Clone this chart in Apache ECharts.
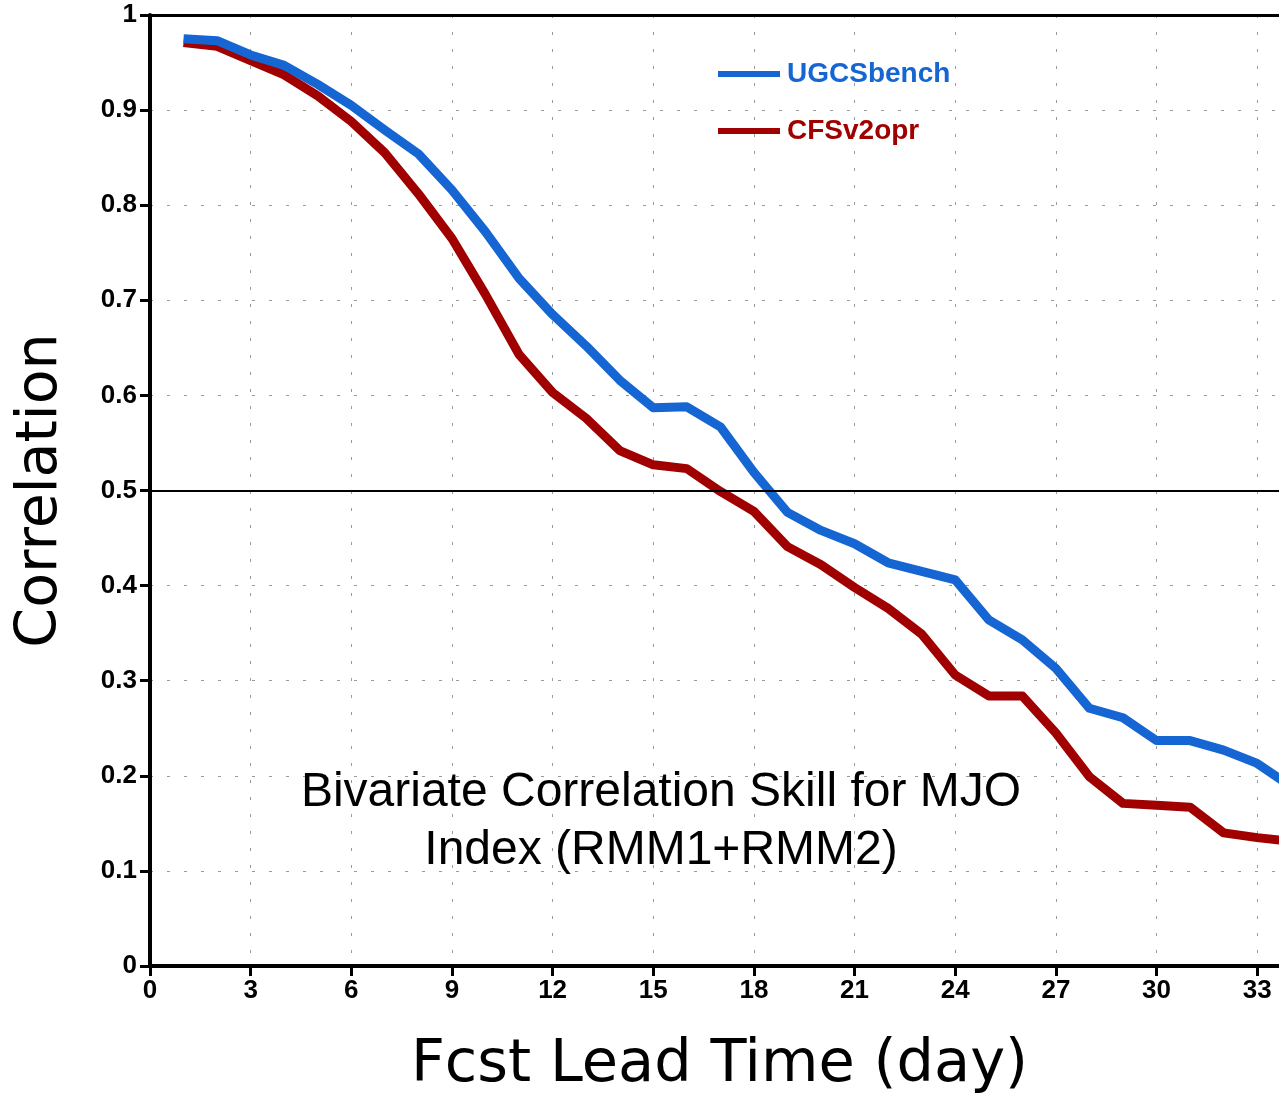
<!DOCTYPE html>
<html>
<head>
<meta charset="utf-8">
<script src="https://cdn.jsdelivr.net/npm/echarts@6/dist/echarts.min.js"></script>
<style>
html,body{margin:0;padding:0;background:#fff;}
#chart{width:1279px;height:1094px;}
</style>
</head>
<body>
<div id="chart"></div>
<script>
const days = [1,2,3,4,5,6,7,8,9,10,11,12,13,14,15,16,17,18,19,20,21,22,23,24,25,26,27,28,29,30,31,32,33,34];
const ugcsBench = [0.975,0.973,0.958,0.947,0.927,0.905,0.879,0.854,0.816,0.772,0.723,0.685,0.652,0.616,0.587,0.588,0.567,0.519,0.477,0.458,0.444,0.424,0.415,0.406,0.364,0.343,0.313,0.271,0.261,0.237,0.237,0.227,0.213,0.189];
const cfsv2Opr = [0.971,0.967,0.952,0.937,0.915,0.888,0.855,0.812,0.765,0.706,0.643,0.603,0.576,0.542,0.527,0.523,0.499,0.478,0.441,0.422,0.398,0.376,0.349,0.306,0.284,0.284,0.245,0.199,0.171,0.169,0.167,0.140,0.135,0.131];
const xTicks = [0,3,6,9,12,15,18,21,24,27,30,33];
const yTicks = [0,0.1,0.2,0.3,0.4,0.5,0.6,0.7,0.8,0.9,1];
const seriesNames = ['UGCSbench','CFSv2opr'];
const refLine = 0.5;
const annotation = 'Bivariate Correlation Skill for MJO\nIndex (RMM1+RMM2)';

const BLUE = '#1565d2';
const RED = '#a00000';
const tickFont = '"Liberation Sans",Arial,sans-serif';
const XMAX = 33.65;

const chart = echarts.init(document.getElementById('chart'), null, {renderer:'canvas'});
const dashed = {show:true, lineStyle:{color:'#9a9a9a', width:1, type:[3,14]}};

chart.setOption({
  animation:false,
  backgroundColor:'#fff',
  grid:{left:150, top:15, right:0, bottom:128, containLabel:false, outerBoundsMode:'none'},
  title:{
    text: annotation,
    left: 656, top: 759, textAlign:'center',
    textStyle:{fontFamily:'"Liberation Sans",Arial,sans-serif', fontSize:48, fontWeight:'normal', color:'#000', lineHeight:58}
  },
  legend:{
    orient:'vertical', left:718, top:60, padding:0,
    icon:'rect',
    itemWidth:62, itemHeight:6, itemGap:29,
    data:[
      {name:seriesNames[0], textStyle:{color:BLUE}},
      {name:seriesNames[1], textStyle:{color:RED}}
    ],
    textStyle:{fontFamily:'"Liberation Sans",Arial,sans-serif', fontWeight:'bold', fontSize:28, padding:[0,0,0,2]}
  },
  xAxis:[{
    type:'value', min:0, max:XMAX, interval:3,
    name:'Fcst Lead Time (day)', nameLocation:'middle', nameGap:70,
    nameTextStyle:{fontFamily:'"DejaVu Sans",sans-serif', fontSize:59, color:'#000', padding:[0,0,0,10]},
    axisLine:{show:true, onZero:false, lineStyle:{color:'#000', width:4}},
    axisTick:{show:true, inside:false, length:10, lineStyle:{color:'#000', width:3},
      customValues: xTicks},
    axisLabel:{show:true, margin:12, color:'#000', fontFamily:tickFont, fontWeight:'bold', fontSize:26,
      customValues: xTicks,
      formatter:function(v){ return xTicks.indexOf(v) >= 0 ? String(v) : ''; }},
    splitLine:dashed
  },{
    type:'value', position:'top', min:0, max:XMAX, interval:3,
    axisLine:{show:true, onZero:false, lineStyle:{color:'#000', width:3}},
    axisTick:{show:false}, axisLabel:{show:false}, splitLine:{show:false}
  }],
  yAxis:{
    type:'value', min:0, max:1, interval:0.1,
    name:'Correlation', nameLocation:'middle', nameGap:80, nameRotate:90,
    nameTextStyle:{fontFamily:'"DejaVu Sans",sans-serif', fontSize:57, color:'#000'},
    axisLine:{show:true, onZero:false, lineStyle:{color:'#000', width:4}},
    axisTick:{show:true, inside:false, length:10, lineStyle:{color:'#000', width:3}},
    axisLabel:{show:true, margin:13, color:'#000', fontFamily:tickFont, fontWeight:'bold', fontSize:26,
      formatter:function(v){ const r = Math.round(v*10)/10; return yTicks.indexOf(r) >= 0 ? String(r) : ''; }},
    splitLine:dashed
  },
  series:[
    {
      name:seriesNames[1], type:'line', xAxisIndex:0,
      data: days.map((d,i)=>[d, cfsv2Opr[i]]),
      symbol:'none', showSymbol:false, clip:true,
      lineStyle:{color:RED, width:9, join:'round'}, itemStyle:{color:RED},
      z:3,
      markLine:{
        silent:true, symbol:['none','none'], label:{show:false},
        lineStyle:{color:'#000', width:2, type:'solid'},
        data:[{yAxis:refLine}]
      }
    },
    {
      name:seriesNames[0], type:'line', xAxisIndex:0,
      data: days.map((d,i)=>[d, ugcsBench[i]]),
      symbol:'none', showSymbol:false, clip:true,
      lineStyle:{color:BLUE, width:9, join:'round'}, itemStyle:{color:BLUE},
      z:4
    }
  ]
});
</script>
</body>
</html>
